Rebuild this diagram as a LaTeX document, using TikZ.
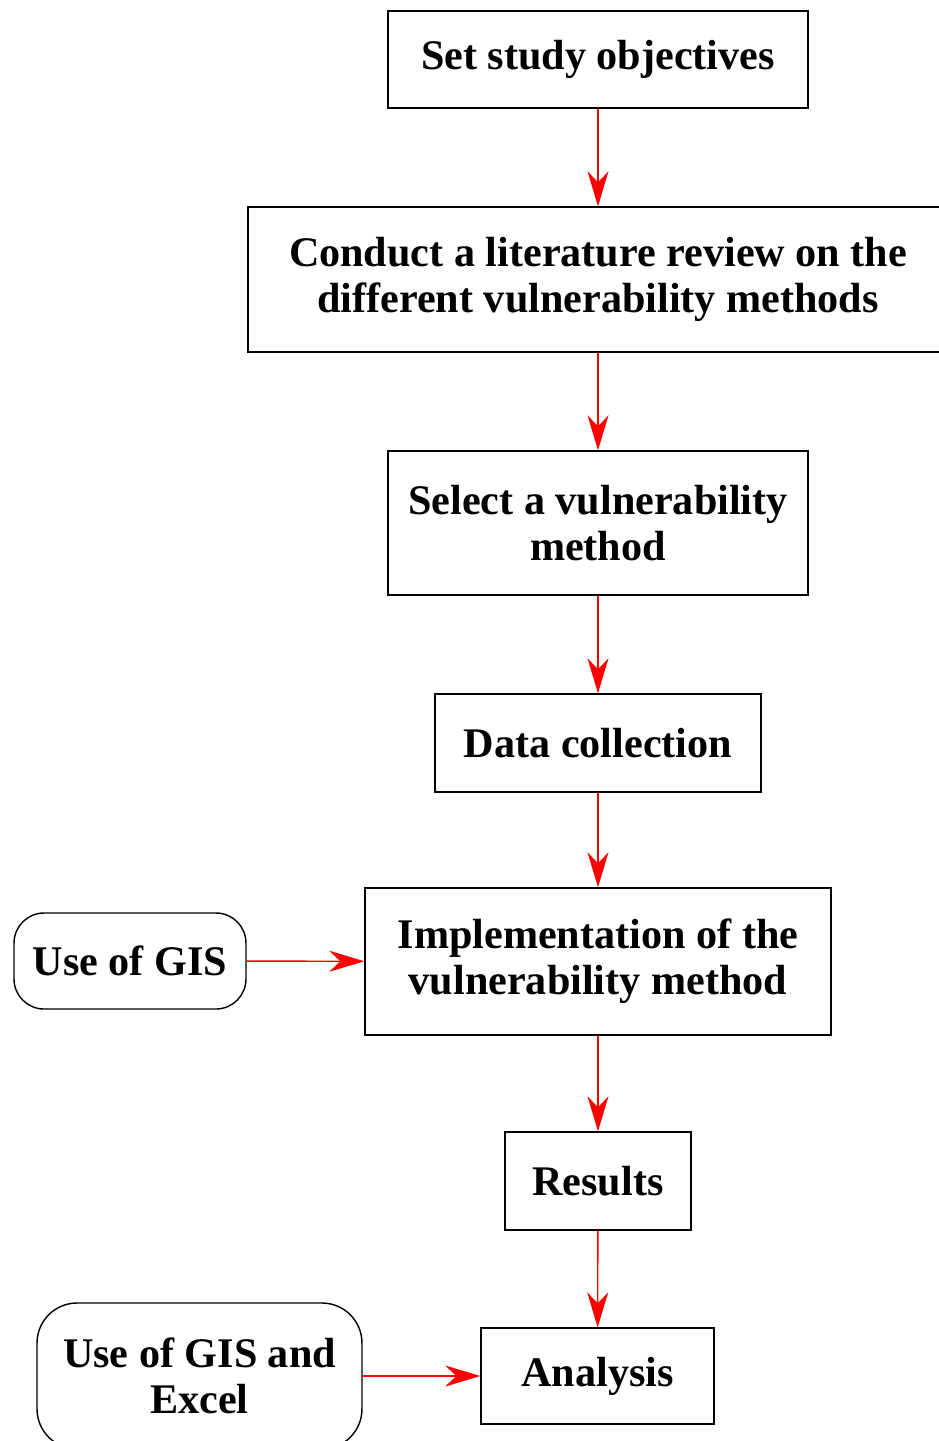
\documentclass[tikz,border=0pt]{standalone}
\usepackage{fontspec}
\setmainfont{Liberation Serif}
\usetikzlibrary{positioning, arrows.meta}

\begin{document}
\begin{tikzpicture}[x=0.02cm, y=-0.02cm,
    every node/.style={font=\bfseries\fontsize{24}{26}\selectfont, align=center, inner sep=0pt},
    stepbox/.style={draw, line width=0.8pt},
    toolbox/.style={draw, line width=0.8pt, rounded corners=0.6cm},
    flow/.style={draw=red, line width=0.8pt, -{Stealth[length=0.7cm, width=0.42cm, inset=0.22cm]}}]

    % Page frame
    \useasboundingbox (0,0) rectangle (939,1441);

    % Main column of steps
    \node[stepbox, minimum width=8.4cm, minimum height=1.94cm] (S1) at (598, 59.5) {Set study objectives};
    \node[stepbox, minimum width=14cm, minimum height=2.9cm]   (S2) at (598, 279.5) {Conduct a literature review on the\\different vulnerability methods};
    \node[stepbox, minimum width=8.4cm, minimum height=2.88cm] (S3) at (598, 523) {Select a vulnerability\\method};
    \node[stepbox, minimum width=6.52cm, minimum height=1.96cm] (S4) at (598, 743) {Data collection};
    \node[stepbox, minimum width=9.32cm, minimum height=2.94cm] (S5) at (598, 961.5) {Implementation of the\\vulnerability method};
    \node[stepbox, minimum width=3.72cm, minimum height=1.96cm] (S6) at (598, 1181) {Results};
    \node[stepbox, minimum width=4.66cm, minimum height=1.92cm] (S7) at (597.5, 1376) {Analysis};

    % Tools on the left
    \node[toolbox, minimum width=4.64cm, minimum height=1.92cm] (T1) at (130, 961) {Use of GIS};
    \node[toolbox, rounded corners=0.8cm, minimum width=6.5cm, minimum height=2.92cm] (T2) at (199.5, 1376) {Use of GIS and\\Excel};

    % Arrows
    \begin{scope}
        \draw[flow] (S1) -- (S2);
        \draw[flow] (S2) -- (S3);
        \draw[flow] (S3) -- (S4);
        \draw[flow] (S4) -- (S5);
        \draw[flow] (S5) -- (S6);
        \draw[flow] (S6) -- (S7);
        \draw[flow] (T1) -- (S5);
        \draw[flow] (T2) -- (S7);
    \end{scope}
\end{tikzpicture}
\end{document}
